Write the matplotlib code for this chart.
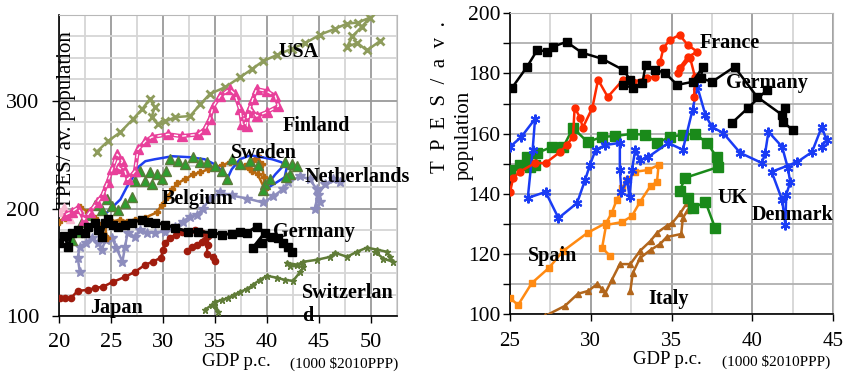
import numpy as np
import matplotlib
matplotlib.use('Agg')
import matplotlib.pyplot as plt
from matplotlib.ticker import MultipleLocator

# ---- left panel: TPES per capita vs GDP per capita ----
usa_x = [23.65, 24.7, 25.9, 27.1, 28.0, 28.75, 29.2, 28.9, 29.5, 30.2, 31.2, 32.6, 33.6, 34.5, 36.0, 37.4, 38.6,
         39.6, 41.0, 42.4, 43.7, 45.1, 46.5, 47.7, 48.75, 49.9, 49.1, 48.2, 47.7, 48.7, 49.6, 50.9]
usa_y = [253, 262.6, 271, 283, 292.5, 302, 294, 285, 278.5, 281, 285, 286, 297, 306.5, 313, 322, 330,
         337, 343, 348.6, 354, 361.7, 367, 372, 373, 377.6, 369, 360, 350.5, 354, 347, 356]

fin_x = [20.67, 21.25, 21.83, 22.4, 23.0, 23.65, 24.2, 24.7, 25.1, 25.6, 26.1, 25.7, 26.35, 26.6, 27.3, 27.6, 28.3,
         28.9, 30.5, 31.8, 33.4, 34.0, 34.5, 34.8, 35.5, 36.4, 36.9, 37.4, 37.6, 38.1, 38.2, 38.65, 39.0, 40.0,
         40.8, 41.1, 40.0, 39.0, 38.4, 37.9]
fin_y = [194.4, 197.2, 200.9, 189.7, 197.2, 205.6, 213, 225, 236.4, 250.5, 244, 238, 234.6, 227, 234.6, 255, 262.6,
         266.4, 269, 267.3, 269, 273.8, 283, 294.4, 304.7, 311, 306.5, 292.5, 278.5, 276.6, 289.7, 302, 311, 309,
         304.7, 295.3, 289.7, 286, 292.5, 278.5]

swe_x = [24.4, 25.1, 25.9, 26.5, 27.1, 27.6, 28.3, 29.2, 30.9, 32.6, 34.0, 35.0, 35.7, 36.25, 36.6, 37.4, 38.4,
         39.5, 40.5, 41.4, 41.9, 41.7, 40.3, 39.7, 40.8, 41.7]
swe_y = [194.4, 201, 208.4, 219.6, 229, 238.3, 244, 245.8, 248.6, 247.7, 245.8, 241, 234.6, 229, 236.4, 245.8, 249.5,
         247.7, 245.8, 243, 238.3, 229, 220.6, 217.8, 231.8, 241]

grn_x = [21.25, 21.8, 22.2, 22.8, 23.5, 24.1, 24.6, 25.1, 25.7, 26.35, 27.0, 27.3, 27.8, 28.3, 28.75, 28.9, 29.4,
         29.9, 30.3, 30.7, 31.4, 32.1, 32.9, 33.6, 34.2, 35.0, 35.7, 36.2, 36.6, 37.4, 38.4, 39.1, 39.8, 39.6,
         40.3, 41.7, 42.4, 42.9, 42.2, 41.8]
grn_y = [171, 178.5, 187, 194.4, 203.7, 199, 209.3, 201.9, 199, 204.7, 210.3, 225.2, 234.6, 225.2, 233.6, 222.4,
         231.8, 227.1, 234.6, 245.8, 244, 241, 247.7, 243, 243, 239.3, 234.6, 227.1, 245.8, 241, 244, 240.2,
         222.4, 216.8, 227.1, 243, 241, 239.3, 231.8, 229]

bel_x = [20.0, 20.6, 21.25, 22.0, 22.8, 23.5, 23.9, 24.2, 24.6, 24.4, 25.1, 25.9, 26.5, 27.3, 28.3, 29.4, 29.9,
         30.4, 30.9, 31.35, 32.1, 32.9, 33.6, 34.3, 35.0, 35.7, 36.4, 37.2, 37.9, 38.4, 38.85, 39.1, 39.5, 39.7,
         39.8, 39.1, 38.6]
bel_y = [187.9, 191.6, 197.2, 201, 197.2, 191.6, 185, 175.7, 172.9, 185, 187.9, 189.7, 187.9, 189.7, 191.6, 196.3,
         203.7, 210.3, 217.8, 223.4, 227.1, 231.8, 233.6, 236.4, 238.3, 240.2, 243, 241, 239.3, 236.4, 245.8,
         248.6, 241, 229, 217.8, 231.8, 234.6]

ned_x = [22.0, 21.8, 22.0, 22.6, 23.2, 23.75, 24.1, 24.5, 25.1, 25.5, 26.1, 26.35, 26.6, 27.3, 27.8, 28.5, 29.2,
         30.2, 31.2, 31.9, 32.6, 33.3, 33.85, 34.5, 35.5, 36.6, 38.1, 39.6, 40.6, 41.5, 42.0, 43.2, 44.1, 44.8,
         45.1, 44.6, 44.9, 45.6, 46.3, 47.0]
ned_y = [141.1, 154.2, 164.5, 168.2, 172.9, 168.2, 161.7, 171, 172.9, 163.6, 150.5, 164.5, 177.6, 173.8, 180.4,
         177.6, 177.6, 178.5, 183.2, 187.9, 192.5, 194.4, 200, 209.3, 215, 212.1, 209.3, 205.6, 211.2, 217.8,
         224.3, 230, 227.1, 217.8, 205.6, 200, 213, 222.4, 227.1, 224.3]

ger_x = [20.0, 20.5, 20.9, 21.25, 21.8, 22.5, 22.8, 23.5, 23.75, 24.1, 24.4, 24.7, 25.2, 25.7, 26.35, 27.0, 28.0,
         28.55, 29.2, 30.2, 31.15, 32.4, 33.4, 34.7, 35.7, 36.6, 37.4, 38.1, 39.0, 39.8, 38.65, 39.5, 40.5,
         41.1, 41.5, 42.0, 42.4]
ger_y = [168.2, 174.8, 164.5, 177.6, 180.4, 177.6, 183.2, 186.9, 180.4, 173.8, 186.9, 190.7, 185, 183.2, 185,
         186.9, 189.7, 187.9, 186.9, 185, 182.2, 178.5, 178.5, 177.6, 175.7, 176.6, 178.5, 177.6, 183.2, 177.6,
         163.6, 168.2, 173.8, 172.9, 168.2, 164.5, 159.8]

jap_x = [20.1, 20.6, 21.15, 21.8, 22.8, 23.5, 24.2, 25.2, 26.35, 27.3, 28.3, 29.0, 29.8, 30.0, 30.2, 30.7, 31.25,
         31.8, 32.4, 33.1, 33.75, 34.3, 33.75, 32.8, 32.3, 33.3, 34.0, 34.3, 34.2, 34.8, 35.0]
jap_y = [116.8, 116.8, 116.8, 123.4, 124.3, 126.2, 127.1, 131.8, 136.4, 141.1, 147.7, 150.5, 154.2, 161.7, 168.2,
         172.9, 175.7, 178.5, 178.5, 180.4, 177.6, 174.8, 169.2, 164.5, 160.7, 166.4, 171, 166.4, 157.9, 155.1,
         151.4]

sui_x = [34.0, 34.7, 35.3, 35.0, 35.7, 36.25, 36.8, 37.4, 38.1, 38.65, 39.3, 40.0, 41.0, 41.7, 42.5, 43.2, 43.5,
         42.2, 41.9, 42.9, 43.5, 44.8, 46.1, 46.5, 47.7, 48.65, 49.6, 50.6, 51.5, 51.8, 52.1, 51.2, 50.4]
sui_y = [105.6, 110.3, 103.7, 113.1, 115, 116.8, 119.6, 122.4, 125.2, 129, 133.6, 137.4, 135.5, 133.6, 132.7,
         141.1, 145.8, 146.7, 149.5, 147.7, 150.5, 152.3, 155.1, 158.9, 155.1, 159.8, 163.6, 161.7, 159.8,
         155.1, 150.5, 153.3, 159.8]

pnk_x = [20.1, 20.5, 21.05]
pnk_y = [197, 201, 190]

# ---- right panel ----
ger2_x = [25.12, 26.05, 26.7, 27.3, 27.65, 28.5, 29.45, 30.7, 32.0, 32.45, 32.0, 32.6, 33.2, 33.4, 34.0, 34.6,
          35.35, 36.3, 36.95, 36.8, 37.5, 38.9, 40.3, 41.85, 42.0, 41.9, 42.5, np.nan, 38.75, 39.75, 40.9]
ger2_y = [175.2, 182.2, 187.9, 187.2, 188.9, 190.5, 186.9, 184.9, 181.2, 177.9, 176.2, 175.2, 176.9, 182.9,
          181.2, 180.2, 176.2, 177.2, 182.2, 178.5, 177.2, 182.2, 172.2, 166.2, 168.6, 163.9, 161.2, np.nan,
          163.6, 168.6, 174.5]

fra_x = [25.0, 25.2, 25.6, 26.55, 27.2, 28.1, 28.5, 28.9, 29.0, 29.35, 29.5, 30.1, 30.45, 31.05, 32.0, 32.6,
         33.5, 34.0, 34.3, 34.5, 34.9, 35.5, 36.0, 36.6, 36.0, 35.5, 35.4, 36.15, 36.45, 36.4]
fra_y = [140.6, 145.3, 147.3, 150.2, 150.2, 153.9, 156.2, 158.9, 168.6, 165.2, 161.9, 168.6, 177.9, 172.2,
         177.9, 177.2, 178.5, 178.9, 183.9, 188.5, 191.2, 192.8, 189.5, 187.2, 185.5, 181.9, 180.2, 185.2,
         178.9, 172.2]

den_x = [25.0, 25.7, 26.55, 26.4, 26.1, 27.2, 28.0, 29.15, 29.65, 29.95, 30.3, 30.9, 31.8, 31.8, 31.9, 32.25,
         32.4, 32.55, 32.75, 33.05, 33.55, 34.8, 35.7, 36.3, 36.6, 37.1, 37.5, 38.2, 39.25, 40.6, 40.8, 41.0,
         41.85, 42.2, 42.35, 42.1, 42.05, 41.85, 41.2, 42.8, 43.7, 44.3, 44.6, 44.3]
den_y = [155.6, 158.9, 164.9, 154.6, 138.6, 140.6, 131.9, 136.9, 144.6, 149.6, 154.6, 156.2, 156.9, 147.9,
         140.6, 144.6, 138.9, 147.9, 154.6, 151.2, 152.2, 156.9, 154.6, 167.9, 175.5, 166.2, 162.2, 160.2,
         153.6, 150.2, 153.6, 160.6, 155.6, 148.6, 143.9, 139.6, 129.6, 137.9, 147.3, 150.6, 153.9, 162.2,
         157.9, 155.6]

uk_x = [25.0, 25.6, 26.05, 26.25, 26.55, 26.7, 27.6, 28.3, 28.9, 29.8, 30.7, 31.5, 32.55, 33.35, 34.1, 34.9,
        35.7, 36.45, 37.2, 37.8, 37.9, 35.85, 35.5, 36.0, 36.35, 37.1, 37.7]
uk_y = [147.9, 149.6, 152.2, 148.9, 149.6, 153.6, 155.6, 155.6, 161.9, 157.2, 158.9, 159.2, 159.9, 159.6, 156.9,
        158.9, 159.6, 159.9, 156.9, 152.2, 148.9, 145.3, 140.9, 138.6, 135.3, 137.3, 128.6]

spa_x = [25.0, 25.5, 26.35, 27.4, 28.3, 29.8, 30.95, 31.3, 31.6, 31.95, 32.25, 32.75, 33.55, 34.2, 34.1, 33.7,
         33.05, 32.55, 31.95, 30.95, 30.7, 31.2]
spa_y = [105.3, 103.0, 110.3, 115.3, 121.0, 127.0, 130.3, 133.6, 137.9, 141.9, 144.6, 147.3, 147.9, 149.6, 143.9,
         142.6, 137.3, 132.6, 130.6, 129.6, 122.0, 119.3]

ita_x = [26.85, 27.15, 28.4, 29.2, 29.85, 30.4, 30.7, 30.9, 31.3, 31.8, 32.45, 33.05, 33.7, 34.1, 34.7, 35.05,
         35.55, 35.95, 36.45, 36.0, 35.7, 35.6, 34.7, 34.3, 33.7, 33.05, 32.6, 32.45]
ita_y = [98.7, 99.3, 102.7, 106.7, 107.7, 110.0, 108.3, 107.0, 111.3, 116.6, 116.6, 121.0, 124.3, 127.0, 129.3,
         130.3, 133.6, 136.9, 134.9, 134.6, 131.9, 126.6, 125.6, 123.3, 121.3, 118.6, 113.6, 107.7]

serif = 'Liberation Serif'
plt.rcParams['font.family'] = serif

fig = plt.figure(figsize=(8.44, 3.72), dpi=100)
ax1 = fig.add_axes([0.0699, 0.1505, 0.4005, 0.8092])
ax2 = fig.add_axes([0.6043, 0.1559, 0.3827, 0.8083])


def style_axes(ax, xlim, ylim, xmaj, ymaj, ymin, hgrid_same=False):
  ax.set_xlim(*xlim)
  ax.set_ylim(*ylim)
  ax.set_axisbelow(True)
  ax.xaxis.set_major_locator(MultipleLocator(xmaj))
  ax.xaxis.set_minor_locator(MultipleLocator(xmaj / 2))
  ax.yaxis.set_major_locator(MultipleLocator(ymaj))
  ax.yaxis.set_minor_locator(MultipleLocator(ymin))
  ax.grid(which='major', axis='x', color='#9a9a9a', lw=1.3)
  ax.grid(which='minor', axis='x', color='#d6d6d6', lw=1.3)
  if hgrid_same:
    ax.grid(which='both', axis='y', color='#b0b0b0', lw=1.3)
  else:
    ax.grid(which='major', axis='y', color='#9a9a9a', lw=1.3)
    ax.grid(which='minor', axis='y', color='#d6d6d6', lw=1.3)
  for s in ['top', 'right']:
    ax.spines[s].set_color('#b8b8b8')
  for s in ['left', 'bottom']:
    ax.spines[s].set_color('black')
    ax.spines[s].set_linewidth(1.2)
  ax.tick_params(which='major', direction='out', length=5, width=1, color='black')
  ax.tick_params(axis='x', which='minor', length=0)


style_axes(ax1, (20, 52.5), (100, 380), 5, 100, 20)
ax1.tick_params(axis='y', which='minor', length=0)
ax1.tick_params(axis='y', labelsize=16, pad=9)
ax1.tick_params(axis='x', labelsize=16, pad=7)

style_axes(ax2, (25, 45), (100, 200), 5, 20, 10, hgrid_same=True)
ax2.tick_params(axis='y', which='minor', direction='out', length=5, width=1)
ax2.tick_params(axis='y', labelsize=15.5, pad=2)
ax2.tick_params(axis='x', labelsize=15, pad=8)

# left panel series
ax1.plot(usa_x, usa_y, color='#8e9c5c', lw=1.8, marker='x', ms=6, mew=2, zorder=3)
ax1.plot(ned_x, ned_y, color='#8d8dbd', lw=1.8, marker='*', ms=7, zorder=3)
ax1.plot(pnk_x, pnk_y, color='#f7bad0', lw=2, marker='^', ms=6, zorder=3)
ax1.plot(bel_x, bel_y, color='#b8680f', lw=1.8, marker='P', ms=4, zorder=4)
ax1.plot(swe_x, swe_y, color='#1f3ff0', lw=1.8, zorder=4)
ax1.plot(grn_x, grn_y, color='#1f8a1f', lw=1.2, ls='none', marker='^', ms=6.5, mfc='#2f9e2f',
         mec='#5a7a3a', zorder=4)
ax1.plot(fin_x, fin_y, color='#e8409a', lw=3, marker='^', ms=6.5, zorder=4)
ax1.plot(fin_x, fin_y, color='white', lw=1, ls=(0, (3, 3)), zorder=4.5)
ax1.plot(jap_x, jap_y, color='#a01c0e', lw=1.8, marker='o', ms=4.5, zorder=4)
ax1.plot(ger_x, ger_y, color='black', lw=2.2, marker='s', ms=5.5, zorder=5)
ax1.plot(sui_x, sui_y, color='#607c38', lw=1.8, marker='*', ms=5, zorder=4)

lab = dict(fontsize=14.5, fontweight='bold', family=serif, va='center', ha='left', zorder=6)
for txt, x, y in [('USA', 278, 52), ('Finland', 283, 126), ('Sweden', 231, 153), ('Netherlands', 305, 177),
                  ('Belgium', 162, 199), ('Germany', 273, 232), ('Japan', 90, 308), ('Switzerlan', 302, 293),
                  ('d', 302, 316)]:
  ax1.text(x / 844, 1 - y / 372, txt, transform=fig.transFigure, **lab)

ax1.text(0.021, 0.651, 'TPES/ av. population', transform=ax1.transAxes, rotation=90, fontsize=15,
         ha='center', va='center', zorder=1, clip_on=False)

# right panel series
ax2.plot(ita_x, ita_y, color='#b2661c', lw=1.8, marker='^', ms=5, zorder=3)
ax2.plot(spa_x, spa_y, color='#ff8a12', lw=1.8, marker='s', ms=5, zorder=3)
ax2.plot(uk_x, uk_y, color='#1a8a1a', lw=1.8, marker='s', ms=6.5, zorder=3)
ax2.plot(den_x, den_y, color='#1a3cf5', lw=1.8, marker=(6, 2, 0), ms=7, mew=1.5, zorder=4)
ax2.plot(fra_x, fra_y, color='#ff2a00', lw=1.8, marker='o', ms=5, zorder=4)
ax2.plot(ger2_x, ger2_y, color='black', lw=1.8, marker='s', ms=5.5, zorder=5)

for txt, x, y in [('France', 700, 43), ('Germany', 726, 83), ('UK', 717, 198), ('Denmark', 752, 215),
                  ('Spain', 528, 256), ('Italy', 648, 299)]:
  ax2.text(x / 844, 1 - y / 372, txt, transform=fig.transFigure, **lab)

fig.text(440 / 844, 1 - 97 / 372, 'T  P  E  S  /  a  v  .', rotation=90, fontsize=15, ha='center', va='center')
fig.text(464 / 844, 1 - 135 / 372, 'population', rotation=90, fontsize=15, ha='center', va='center')

# x axis titles
fig.text(202 / 844, 1 - 362 / 372, 'GDP p.c.', fontsize=13.5, ha='left', va='center')
fig.text(290 / 844, 1 - 364 / 372, '(1000 $2010PPP)', fontsize=11, ha='left', va='center')
fig.text(633 / 844, 1 - 360 / 372, 'GDP p.c.', fontsize=13.5, ha='left', va='center')
fig.text(722 / 844, 1 - 362 / 372, '(1000 $2010PPP)', fontsize=11, ha='left', va='center')

fig.savefig('out.png', dpi=100)
